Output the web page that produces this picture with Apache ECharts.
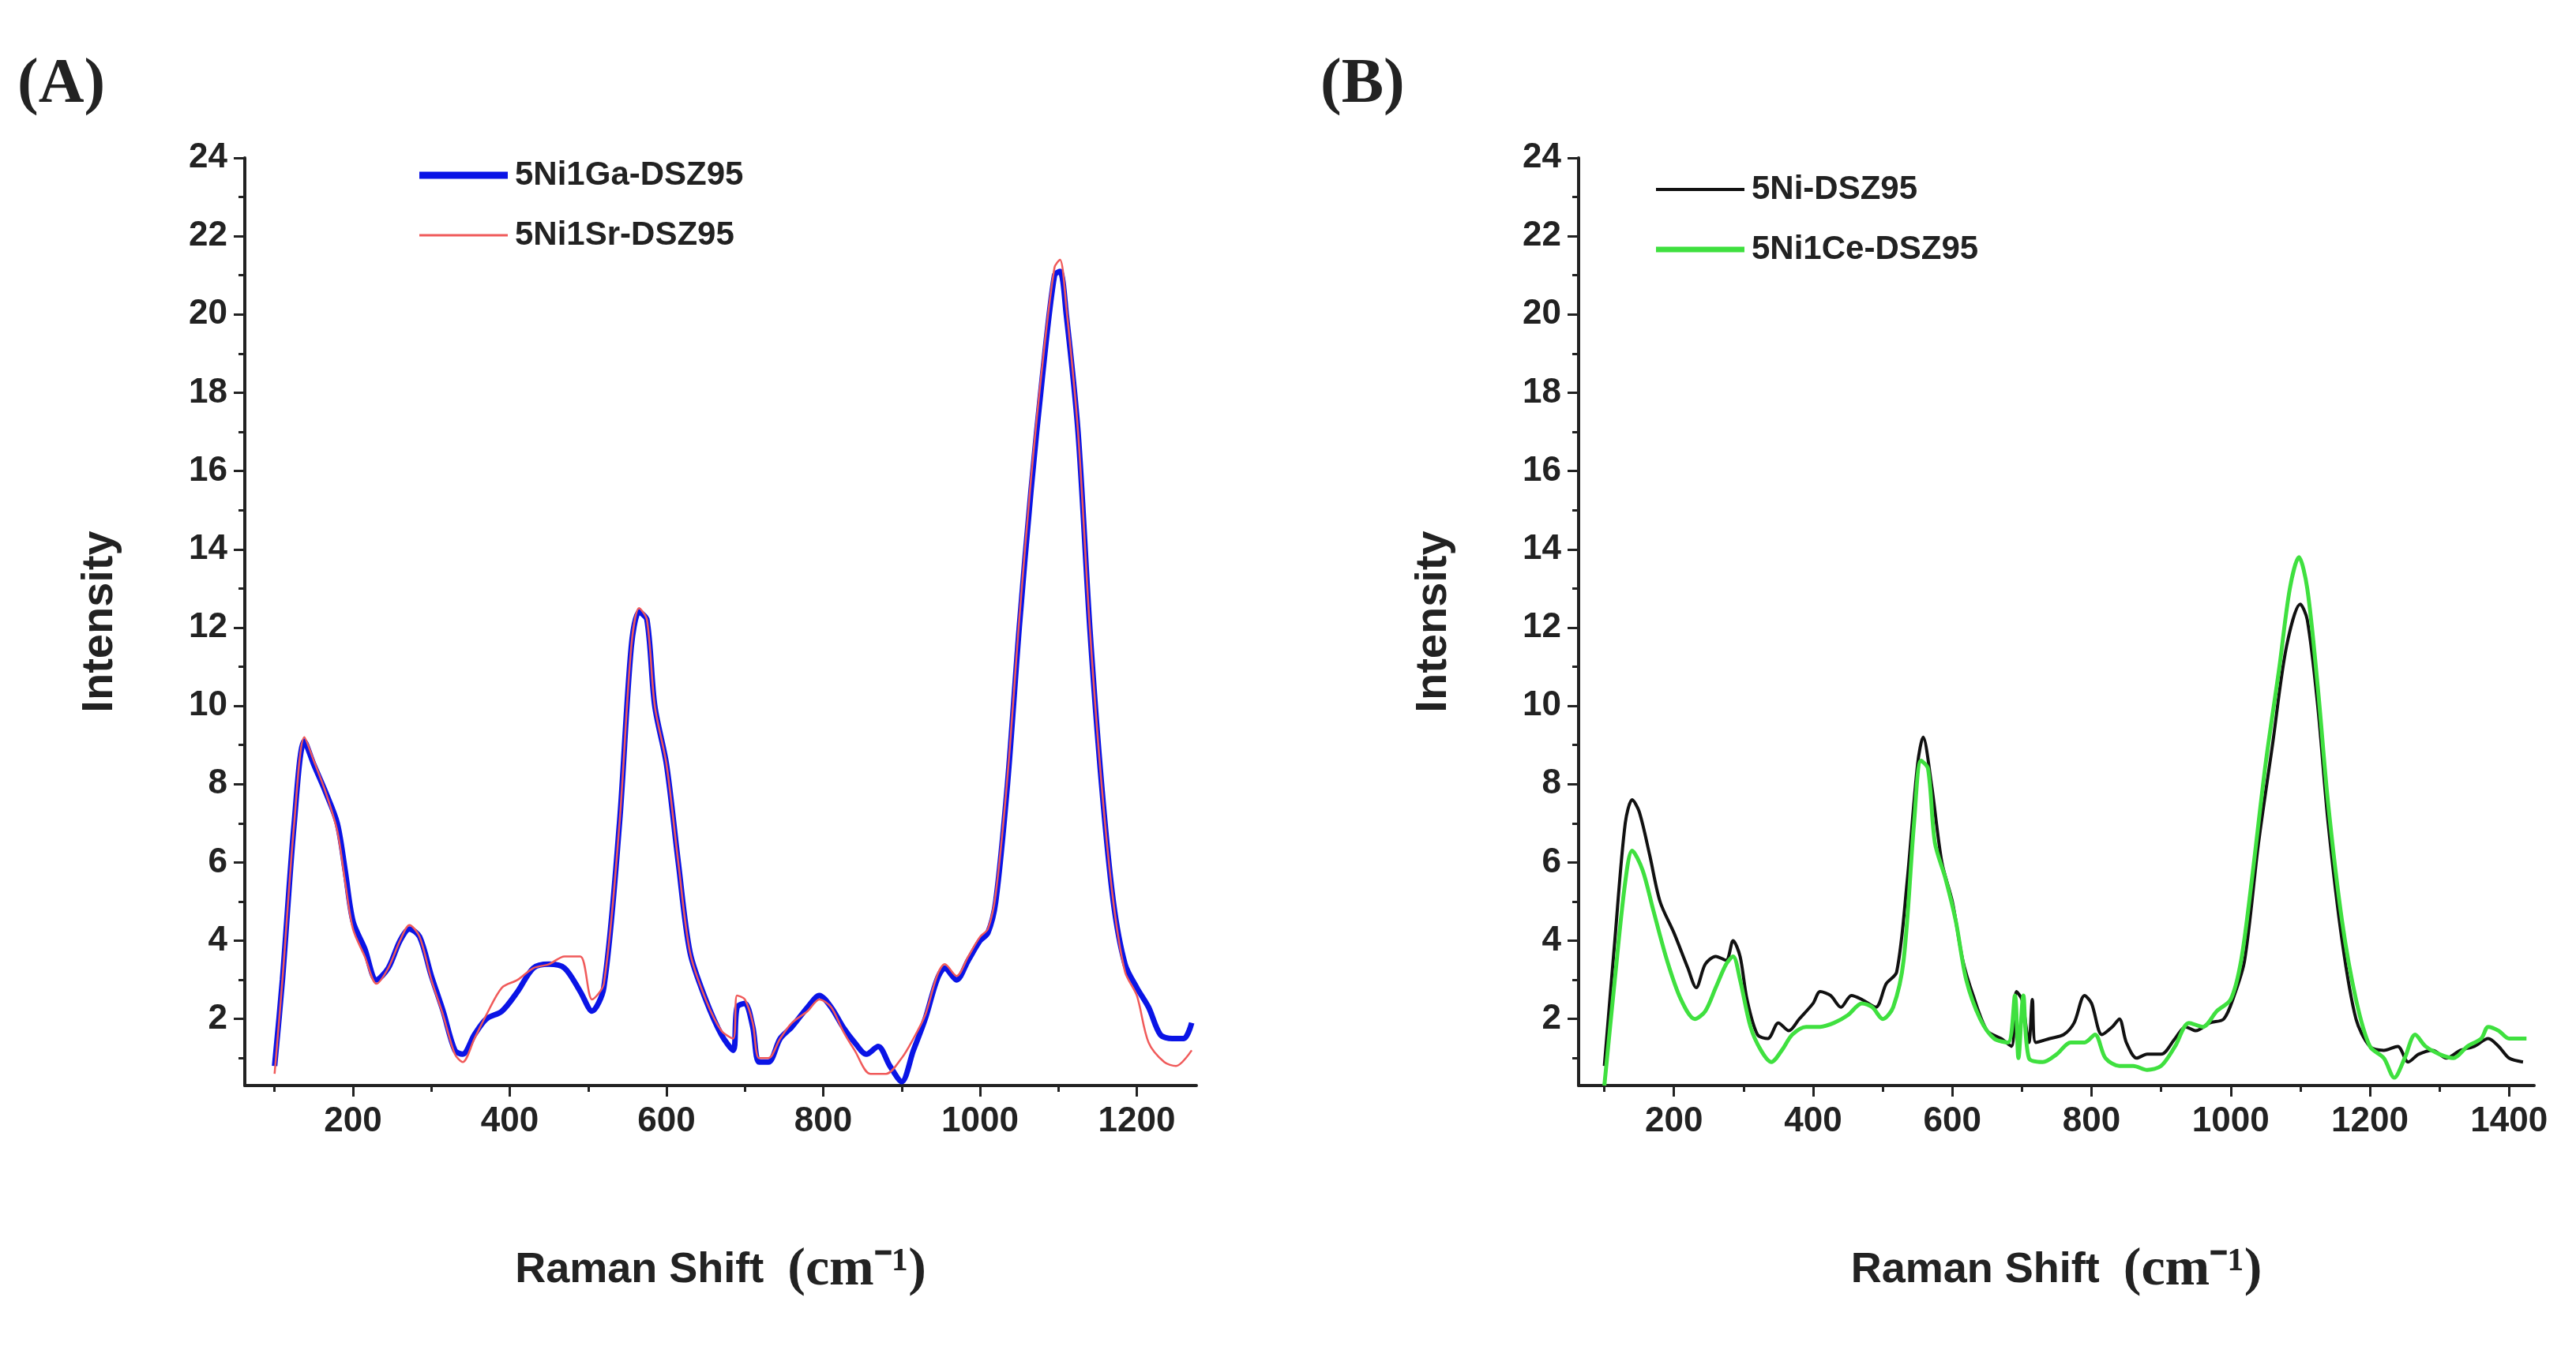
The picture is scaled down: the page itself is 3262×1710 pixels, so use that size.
<!DOCTYPE html>
<html>
<head>
<meta charset="utf-8">
<script src="https://cdn.jsdelivr.net/npm/echarts@6/dist/echarts.min.js"></script>
<style>html,body{margin:0;padding:0;background:#fff}#chart{width:3262px;height:1710px}</style>
</head>
<body>
<div id="chart"></div>
<script>
// panel A
let gaX = [100,110,125,138,150,165,180,190,200,215,230,245,260,272,285,300,315,330,340,355,370,390,410,430,450,470,490,505,520,540,555,565,575,585,600,615,630,650,670,685,690,700,710,718,730,745,760,780,795,810,825,840,855,870,885,900,915,930,945,955,970,985,1000,1010,1020,1035,1050,1065,1080,1095,1102,1110,1125,1140,1155,1170,1185,1200,1215,1230,1245,1260,1270];
let gaY = [0.8,3,7,9.1,8.5,7.8,7,5.8,4.5,3.8,3.0,3.3,4,4.3,4.1,3.1,2.2,1.2,1.1,1.6,2.0,2.2,2.7,3.3,3.4,3.3,2.7,2.2,2.8,7,11.5,12.4,12.2,10.0,8.5,6.0,3.7,2.5,1.6,1.2,2.3,2.4,1.8,0.9,0.9,1.5,1.8,2.3,2.6,2.3,1.8,1.4,1.1,1.3,0.8,0.4,1.2,2.0,3.0,3.3,3.0,3.5,4.0,4.2,5.0,8,12,15.5,18.5,21.0,21.1,20.0,17,12,8,5,3.4,2.8,2.3,1.6,1.5,1.5,1.9];
let srX = [100,110,125,138,150,165,180,190,200,215,230,245,260,272,285,300,315,330,340,355,370,390,410,430,450,470,490,505,520,540,555,565,575,585,600,615,630,650,670,685,690,700,710,718,730,745,760,780,795,810,825,840,860,880,900,915,930,945,955,970,985,1000,1010,1020,1035,1050,1065,1080,1095,1102,1110,1125,1140,1155,1170,1185,1200,1215,1235,1250,1270];
let srY = [0.6,3,7,9.2,8.6,7.8,6.8,5.5,4.3,3.6,2.9,3.3,4,4.4,4.1,3.0,2.1,1.1,0.9,1.5,2.1,2.8,3.0,3.3,3.4,3.6,3.6,2.5,2.9,7,11.5,12.5,12.2,10.0,8.5,6.0,3.7,2.5,1.7,1.5,2.6,2.5,1.9,1.0,1.0,1.5,1.9,2.2,2.5,2.3,1.7,1.2,0.6,0.6,1.0,1.5,2.1,3.1,3.4,3.1,3.6,4.1,4.3,5.2,8.2,12.2,15.8,18.8,21.2,21.4,20.2,17,12,8,5,3.2,2.6,1.4,0.9,0.8,1.2];
// panel B
let niX = [100,115,130,140,150,165,180,200,220,232,245,260,275,285,295,305,320,335,350,365,380,400,410,425,440,455,470,490,505,520,535,550,558,570,585,600,615,630,650,670,685,692,700,710,715,720,740,760,775,790,800,815,830,840,850,865,880,900,920,935,950,970,990,1005,1020,1040,1060,1080,1100,1110,1125,1140,1160,1180,1200,1220,1240,1255,1270,1290,1310,1330,1350,1370,1385,1400,1420];
let niY = [0.8,4,7,7.6,7.3,6.2,5.0,4.2,3.3,2.8,3.4,3.6,3.5,4.0,3.6,2.5,1.6,1.5,1.9,1.7,2.0,2.4,2.7,2.6,2.3,2.6,2.5,2.3,2.9,3.2,5.5,8.5,9.2,8.0,6.0,5.0,3.5,2.6,1.7,1.5,1.3,2.7,2.5,1.4,2.5,1.4,1.5,1.6,1.9,2.6,2.4,1.6,1.8,2.0,1.4,1.0,1.1,1.1,1.5,1.8,1.7,1.9,2.0,2.6,3.5,6.5,9,11.5,12.6,12.2,10,7,4,2.0,1.3,1.2,1.3,0.9,1.1,1.2,1.0,1.2,1.3,1.5,1.3,1.0,0.9];
let ceX = [100,115,130,140,155,170,190,210,230,245,260,275,285,295,310,325,340,355,370,390,410,430,450,470,485,500,515,530,545,555,565,575,590,605,620,640,660,680,690,695,702,710,730,750,770,790,805,820,840,860,880,900,920,940,960,980,1000,1015,1030,1050,1070,1085,1098,1110,1125,1140,1160,1180,1200,1220,1235,1250,1265,1280,1300,1320,1340,1360,1370,1385,1400,1425];
let ceY = [0.3,3,5.5,6.3,5.8,4.8,3.5,2.5,2.0,2.2,2.8,3.4,3.6,3.0,1.8,1.2,0.9,1.2,1.6,1.8,1.8,1.9,2.1,2.4,2.3,2.0,2.3,3.5,7.0,8.6,8.4,6.5,5.6,4.5,3.0,2.0,1.5,1.4,2.6,1.0,2.6,1.0,0.9,1.1,1.4,1.4,1.6,1.0,0.8,0.8,0.7,0.8,1.3,1.9,1.8,2.2,2.5,3.5,5.5,8.5,11,13,13.8,13,10.5,7.5,4.5,2.5,1.3,1.0,0.5,1.0,1.6,1.3,1.1,1.0,1.3,1.5,1.8,1.7,1.5,1.5];

let xTicksA = [200,400,600,800,1000,1200];
let xMinorA = [100,300,500,700,900,1100];
let xTicksB = [200,400,600,800,1000,1200,1400];
let xMinorB = [100,300,500,700,900,1100,1300];
let yTicks = [2,4,6,8,10,12,14,16,18,20,22,24];
let yMinor = [1,3,5,7,9,11,13,15,17,19,21,23];

function pairs(xs, ys) {
    return xs.map(function (x, i) { return [x, ys[i]]; });
}

let labelFont = {fontFamily: 'Liberation Sans', fontWeight: 'bold', fontSize: 44, color: '#222'};
let axisLine = {show: true, onZero: false, lineStyle: {color: '#222', width: 4}};

function xAxes(grid, min, max, major, minor) {
    return [{
        type: 'value', gridIndex: grid, min: min, max: max,
        axisLine: axisLine, splitLine: {show: false},
        axisTick: {show: true, customValues: major, length: 14, lineStyle: {width: 3, color: '#222'}},
        axisLabel: Object.assign({customValues: major, margin: 24, formatter: function (v) { return String(v); }}, labelFont),
        name: '{a|Raman Shift  }{b|(cm\u207B\u00B9)}', nameLocation: 'middle', nameGap: 200,
        nameTextStyle: {rich: {
            a: {fontFamily: 'Liberation Sans', fontWeight: 'bold', fontSize: 54, color: '#222'},
            b: {fontFamily: 'Liberation Serif', fontWeight: 'bold', fontSize: 68, color: '#222'}
        }}
    }, {
        type: 'value', gridIndex: grid, min: min, max: max, position: 'bottom',
        axisLine: {show: false}, splitLine: {show: false}, axisLabel: {show: false},
        axisTick: {show: true, customValues: minor, length: 8, lineStyle: {width: 3, color: '#222'}}
    }];
}

function yAxes(grid) {
    return [{
        type: 'value', gridIndex: grid, min: 0.3, max: 24,
        axisLine: axisLine, splitLine: {show: false},
        axisTick: {show: true, customValues: yTicks, length: 14, lineStyle: {width: 3, color: '#222'}},
        axisLabel: Object.assign({customValues: yTicks, margin: 22}, labelFont),
        name: 'Intensity', nameLocation: 'middle', nameGap: 155,
        nameTextStyle: {fontFamily: 'Liberation Sans', fontWeight: 'bold', fontSize: 56, color: '#222'}
    }, {
        type: 'value', gridIndex: grid, min: 0.3, max: 24, position: 'left',
        axisLine: {show: false}, splitLine: {show: false}, axisLabel: {show: false},
        axisTick: {show: true, customValues: yMinor, length: 8, lineStyle: {width: 3, color: '#222'}}
    }];
}

function line(name, data, xi, yi, color, width) {
    return {
        name: name, type: 'line', data: data, xAxisIndex: xi, yAxisIndex: yi,
        symbol: 'none', smooth: 0.3, animation: false,
        lineStyle: {color: color, width: width}, itemStyle: {color: color}
    };
}

let legendText = {fontFamily: 'Liberation Sans', fontWeight: 'bold', fontSize: 42, color: '#222', padding: [0, 0, 0, 4]};

function legendItem(name, left, top, h) {
    return {
        data: [name], left: left, top: top, icon: 'rect',
        itemWidth: 112, itemHeight: h, textStyle: legendText
    };
}

let chart = echarts.init(document.getElementById('chart'));
chart.setOption({
    backgroundColor: '#fff',
    animation: false,
    grid: [
        {left: 310, right: 1747, top: 200, bottom: 335},
        {left: 1999, right: 53, top: 200, bottom: 335}
    ],
    xAxis: xAxes(0, 62, 1276, xTicksA, xMinorA).concat(xAxes(1, 63, 1436, xTicksB, xMinorB)),
    yAxis: yAxes(0).concat(yAxes(1)),
    legend: [
        legendItem('5Ni1Ga-DSZ95', 526, 196, 9),
        legendItem('5Ni1Sr-DSZ95', 526, 272, 3),
        legendItem('5Ni-DSZ95', 2092, 214, 4),
        legendItem('5Ni1Ce-DSZ95', 2092, 290, 7)
    ],
    graphic: [
        {type: 'text', left: 22, top: 68, style: {text: '(A)', font: 'bold 80px "Liberation Serif"', fill: '#222'}},
        {type: 'text', left: 1672, top: 68, style: {text: '(B)', font: 'bold 80px "Liberation Serif"', fill: '#222'}}
    ],
    series: [
        line('5Ni1Ga-DSZ95', pairs(gaX, gaY), 0, 0, '#0a14e6', 7),
        line('5Ni1Sr-DSZ95', pairs(srX, srY), 0, 0, '#f05a5a', 2.5),
        line('5Ni-DSZ95', pairs(niX, niY), 2, 2, '#111111', 4),
        line('5Ni1Ce-DSZ95', pairs(ceX, ceY), 2, 2, '#3fe03f', 5)
    ]
});
</script>
</body>
</html>
